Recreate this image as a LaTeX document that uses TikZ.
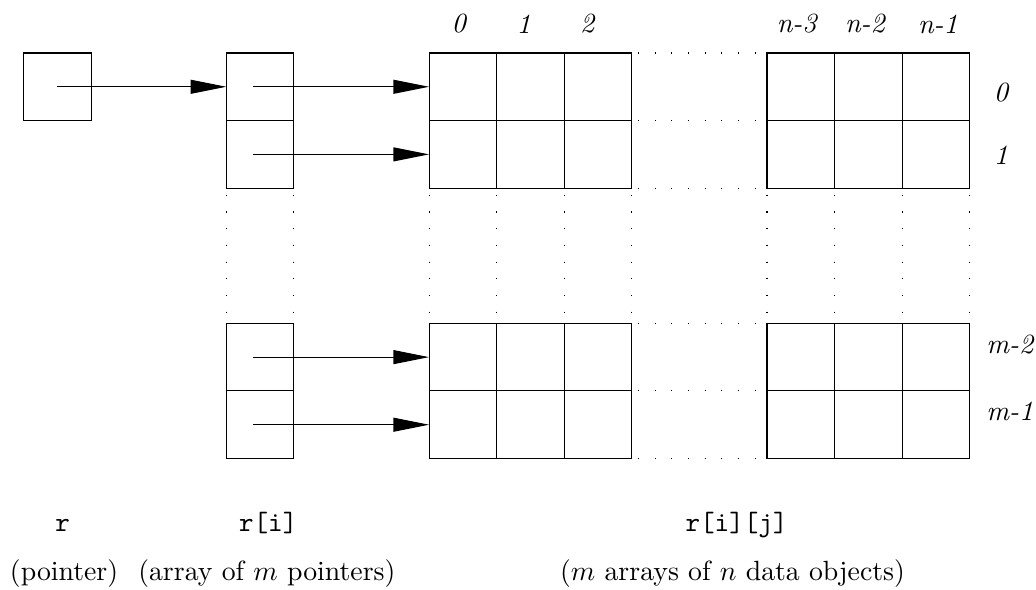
\documentclass[tikz,border=0pt]{standalone}
\usetikzlibrary{arrows.meta}
\tikzset{
  cell/.style={draw, minimum size=0.855cm, inner sep=0pt, outer sep=0pt},
  ptr/.style={-{Triangle[length=12.8pt,width=5pt]}},
  dots/.style={dash pattern=on 0.4pt off 5.6pt},
  idx/.style={font=\itshape},
}
\begin{document}
\begin{tikzpicture}[x=0.855cm,y=0.855cm]
    \useasboundingbox (-0.348,0.784) rectangle (14.98,-7.944);
    % the pointer r and the m pointers r[i]
    \node[cell] (r) at (0.5,-0.5) {};
    \foreach \n/\y in {0/0.5,1/1.5,2/4.5,3/5.5}
        \node[cell] (p\n) at (3.5,-\y) {};
    % the data rows
    \foreach \n/\y in {0/0.5,1/1.5,2/4.5,3/5.5}
        \foreach \c/\x in {0/6.5,1/7.5,2/8.5,3/11.5,4/12.5,5/13.5}
            \node[cell] (d\n\c) at (\x,-\y) {};
    % pointers
    \draw[ptr] (r.center) -- (p0.west);
    \foreach \n in {0,...,3}
        \draw[ptr] ([xshift=-0.085cm]p\n.center) -- (d\n0.west);
    % gaps
    \foreach \n in {0,...,3}
        \draw[dots] ([xshift=2.2pt]d\n2.north east) -- (d\n3.north west);
    \draw[dots] ([xshift=2.2pt]d12.south east) -- (d13.south west);
    \draw[dots] ([xshift=2.2pt]d32.south east) -- (d33.south west);
    \draw[dots] ([yshift=-2.4pt]p1.south west) -- (p2.north west);
    \draw[dots] ([yshift=-2.4pt]p1.south east) -- (p2.north east);
    \foreach \c in {0,...,5} {
        \draw[dots] ([yshift=-2.4pt]d1\c.south west) -- (d2\c.north west);
    }
    \draw[dots] ([yshift=-2.4pt]d12.south east) -- (d22.north east);
    \draw[dots] ([yshift=-2.4pt]d15.south east) -- (d25.north east);
    % indices
    \foreach \t/\x [count=\i] in {0/6.44,1/7.4,2/8.34,n-3/11.44,n-2/12.45,n-1/13.53}
        \node[idx] (col\i) at (\x,0.43) {\t};
    \node[idx] (row0) at (14.46,-0.58) {0};
    \node[idx] (row1) at (14.46,-1.51) {1};
    \node[idx,anchor=west] (row2) at (14.1,-4.32) {m-2};
    \node[idx,anchor=west] (row3) at (14.1,-5.31) {m-1};
    % captions
    \node[anchor=base] (lr) at (0.58,-7.08) {\texttt{r}};
    \node[anchor=base] (lri) at (3.62,-7.08) {\texttt{r[i]}};
    \node[anchor=base] (lrij) at (10.55,-7.08) {\texttt{r[i][j]}};
    \node[anchor=base] (dr) at (0.6,-7.81) {(pointer)};
    \node[anchor=base] (dri) at (3.6,-7.81) {(array of $m$ pointers)};
    \node[anchor=base] (drij) at (10.49,-7.81) {($m$ arrays of $n$ data objects)};
\end{tikzpicture}
\end{document}
